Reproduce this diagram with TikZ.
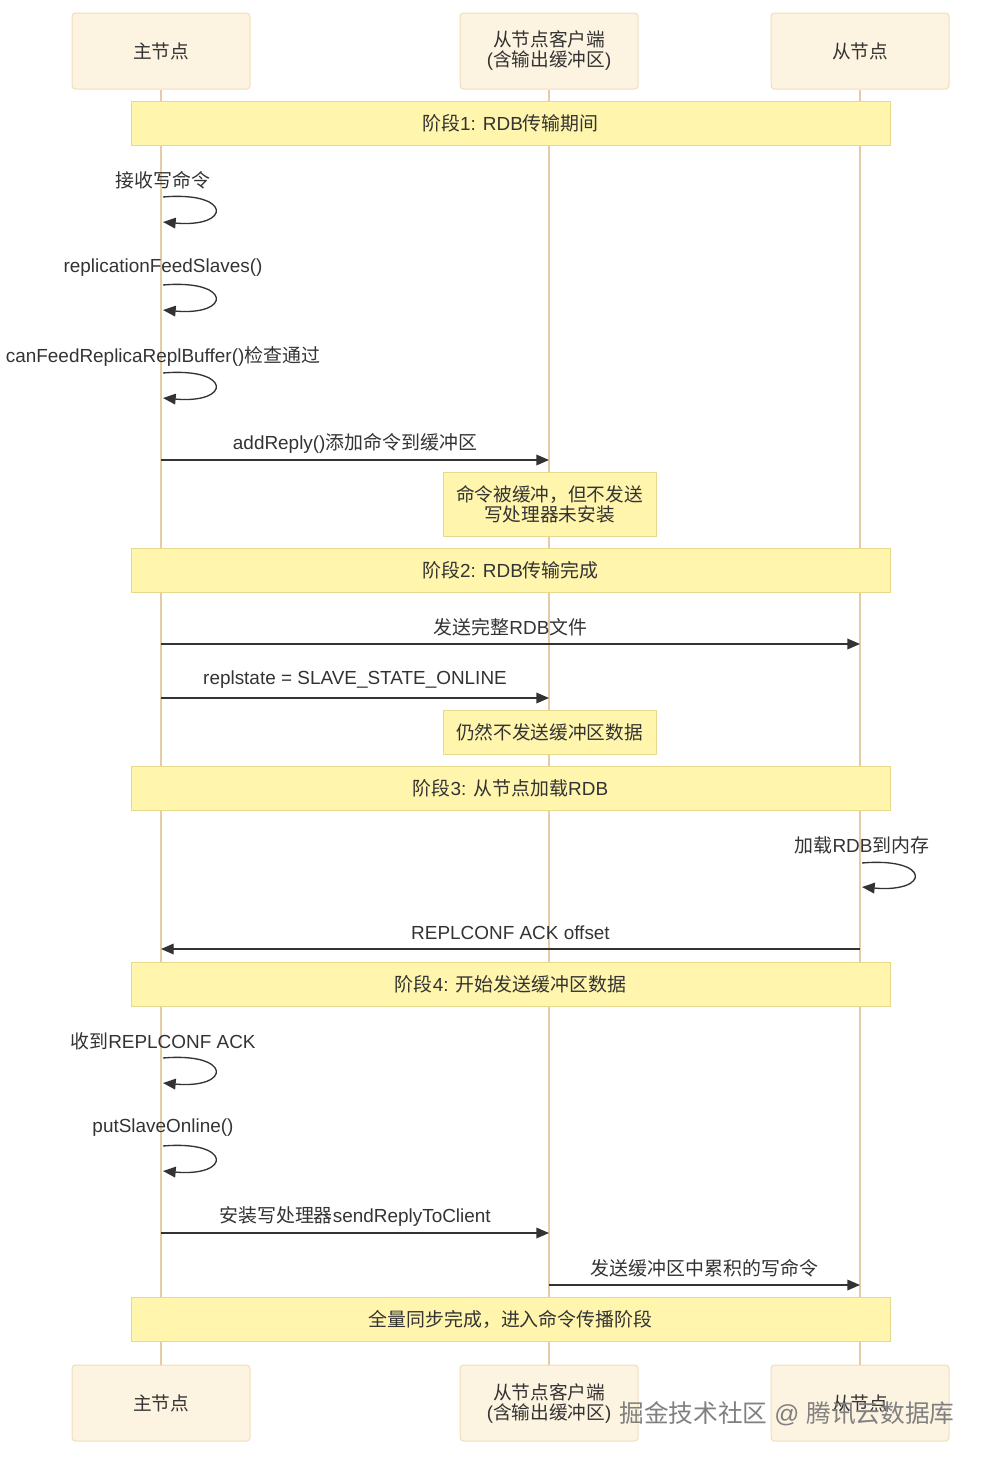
\documentclass[tikz,border=0pt]{standalone}
\usepackage{fontspec}
\setmainfont{Liberation Sans}
\newfontfamily\cjk{Noto Sans CJK SC}
\newcommand\zh[1]{{\cjk #1}}
\usetikzlibrary{arrows.meta}
\definecolor{actfill}{RGB}{253,243,225}
\definecolor{actdraw}{RGB}{240,222,188}
\definecolor{lifeclr}{RGB}{230,204,164}
\definecolor{notefill}{RGB}{255,245,173}
\definecolor{notedraw}{RGB}{232,218,140}
\definecolor{ink}{RGB}{51,51,51}
\tikzset{
  actor/.style={draw=actdraw, fill=actfill, rounded corners=2.5pt, minimum width=133.5pt, minimum height=57pt, align=center, text=ink, line width=0.75pt, font=\fontsize{14}{15}\selectfont},
  lifeline/.style={draw=lifeclr, line width=1.5pt},
  phase/.style={draw=notedraw, fill=notefill, minimum width=569.25pt, minimum height=33pt, text=ink, line width=0.75pt},
  notebox/.style={draw=notedraw, fill=notefill, minimum width=159.75pt, align=center, text=ink, line width=0.75pt, font=\fontsize{14}{15}\selectfont},
  msg/.style={draw=ink, line width=1pt, -{Triangle[length=9.5pt,width=8pt]}},
  lbl/.style={text=ink, inner sep=0pt}
}
\begin{document}
\begin{tikzpicture}[x=0.75pt,y=-0.75pt, font=\fontsize{14.2}{16}\selectfont]
\useasboundingbox (0,0) rectangle (986,1460);

% actors
\node[actor] (mT) at (161,51) {\zh{主节点}};
\node[actor] (cT) at (549,51) {\zh{从节点客户端}\\(\zh{含输出缓冲区})};
\node[actor] (sT) at (860,51) {\zh{从节点}};
\node[actor] (mB) at (161,1403) {\zh{主节点}};
\node[actor] (cB) at (549,1403) {\zh{从节点客户端}\\(\zh{含输出缓冲区})};
\node[actor] (sB) at (860,1403) {\zh{从节点}};

% lifelines
\draw[lifeline] (mT) -- (mB);
\draw[lifeline] (cT) -- (cB);
\draw[lifeline] (sT) -- (sB);

% phase notes
\node[phase] (p1) at (510.5,123) {\zh{阶段}1: RDB\zh{传输期间}};
\node[phase] (p2) at (510.5,570) {\zh{阶段}2: RDB\zh{传输完成}};
\node[phase] (p3) at (510.5,788) {\zh{阶段}3: \zh{从节点加载}RDB};
\node[phase] (p4) at (510.5,984) {\zh{阶段}4: \zh{开始发送缓冲区数据}};
\node[phase] (p5) at (510.5,1319) {\zh{全量同步完成，进入命令传播阶段}};

% self loops on master
\coordinate (a1) at (163,197); \coordinate (a2) at (163,222);
\draw[msg] (a1) .. controls (232,191) and (232,228) .. (a2);
\node[lbl] (t1) at (163,180) {\zh{接收写命令}};

\coordinate (b1) at (163,285); \coordinate (b2) at (163,310);
\draw[msg] (b1) .. controls (232,279) and (232,316) .. (b2);
\node[lbl] (t2) at (163,268) {replicationFeedSlaves()};

\coordinate (c1) at (163,373); \coordinate (c2) at (163,398);
\draw[msg] (c1) .. controls (232,367) and (232,404) .. (c2);
\node[lbl] (t3) at (163,356) {canFeedReplicaReplBuffer()\zh{检查通过}};

% addReply
\coordinate (m1) at (161,460); \coordinate (k1) at (549,460);
\draw[msg] (m1) -- node[lbl, midway, yshift=12.75pt] (t4) {addReply()\zh{添加命令到缓冲区}} (k1);

\node[notebox, minimum height=48pt] (n1) at (549.5,504) {\zh{命令被缓冲，但不发送}\\\zh{写处理器未安装}};

% phase 2
\coordinate (m2) at (161,644); \coordinate (s2) at (860,644);
\draw[msg] (m2) -- node[lbl, midway, yshift=12.75pt] (t5) {\zh{发送完整}RDB\zh{文件}} (s2);

\coordinate (m3) at (161,698); \coordinate (k3) at (549,698);
\draw[msg] (m3) -- node[lbl, midway, yshift=14pt] (t6) {replstate = SLAVE\_STATE\_ONLINE} (k3);

\node[notebox, minimum height=33pt] (n2) at (549.5,732) {\zh{仍然不发送缓冲区数据}};

% phase 3
\coordinate (d1) at (862,863); \coordinate (d2) at (862,887);
\draw[msg] (d1) .. controls (931,857) and (931,893) .. (d2);
\node[lbl] (t7) at (862,845) {\zh{加载}RDB\zh{到内存}};

\coordinate (s4) at (860,949); \coordinate (m4) at (161,949);
\draw[msg] (s4) -- node[lbl, midway, yshift=12pt] (t8) {REPLCONF ACK offset} (m4);

% phase 4
\coordinate (e1) at (163,1058); \coordinate (e2) at (163,1083);
\draw[msg] (e1) .. controls (232,1052) and (232,1089) .. (e2);
\node[lbl] (t9) at (163,1041) {\zh{收到}REPLCONF ACK};

\coordinate (f1) at (163,1146); \coordinate (f2) at (163,1171);
\draw[msg] (f1) .. controls (232,1140) and (232,1177) .. (f2);
\node[lbl] (t10) at (163,1128) {putSlaveOnline()};

\coordinate (m5) at (161,1233); \coordinate (k5) at (549,1233);
\draw[msg] (m5) -- node[lbl, midway, yshift=12.75pt] (t11) {\zh{安装写处理器}sendReplyToClient} (k5);

\coordinate (k6) at (549,1285); \coordinate (s6) at (860,1285);
\draw[msg] (k6) -- node[lbl, midway, yshift=12.75pt] (t12) {\zh{发送缓冲区中累积的写命令}} (s6);

% watermark
\node[text=black!50, inner sep=0pt, font=\fontsize{18.5}{20}\selectfont] (wm) at (787,1414) {\zh{掘金技术社区} @ \zh{腾讯云数据库}};
\end{tikzpicture}
\end{document}
